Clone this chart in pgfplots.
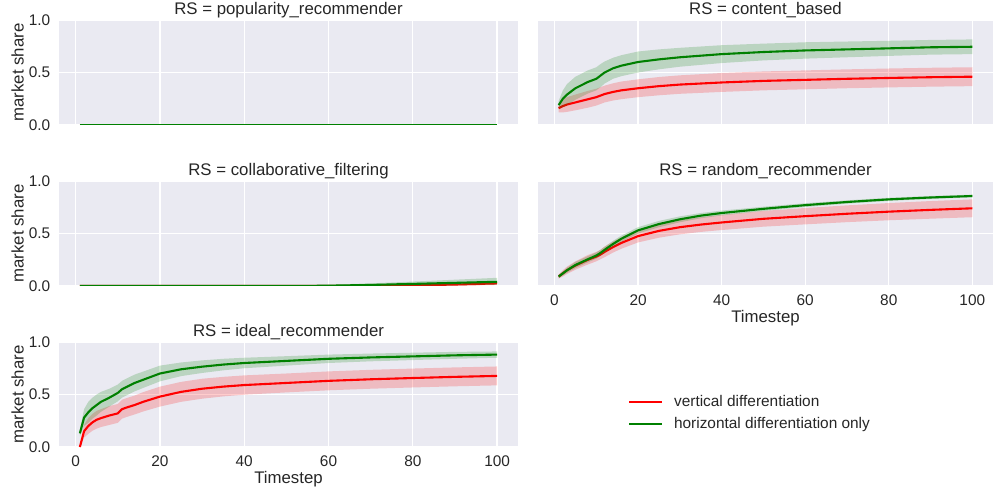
\documentclass[border=0pt]{standalone}
\usepackage{fontspec}
\setmainfont{Liberation Sans}
\usepackage{pgfplots}
\pgfplotsset{compat=1.18}
\definecolor{bgc}{HTML}{EAEAF2}
\definecolor{sred}{HTML}{FF0000}
\definecolor{sgreen}{HTML}{008000}
\definecolor{txt}{HTML}{262626}
\pgfplotsset{
  facet/.style={
    scale only axis, width=459bp, height=105bp,
    xmin=-3.95, xmax=104.95, ymin=0, ymax=1,
    axis background/.style={fill=bgc},
    axis line style={draw=none}, major tick length=0pt,
    grid=major, grid style={white, line width=1.3bp},
    xtick={0,20,...,100}, ytick={0,0.5,1},
    /pgf/number format/assume math mode=true,
    tick label style={font=\fontsize{15.4bp}{18bp}\selectfont, text=txt},
    yticklabel style={anchor=east, inner sep=0pt, xshift=-8.5bp},
    xticklabel style={anchor=base, inner sep=0pt, yshift=-19.5bp},
    title style={at={(0.5,1)}, anchor=base, yshift=-0.5bp, font=\fontsize{16.8bp}{20bp}\selectfont, text=txt},
    label style={font=\fontsize{16.8bp}{20bp}\selectfont, text=txt},
    xlabel style={at={(axis description cs:0.5,0)}, anchor=base, yshift=-36.5bp},
    ylabel style={at={(axis description cs:-0.0773,0.5)}, anchor=base, rotate=0},
  },
  ylab/.style={yticklabel={\pgfmathprintnumber[fixed,fixed zerofill,precision=1,assume math mode=true]{\tick}}},
  noxlab/.style={xticklabels={}},
  noylab/.style={yticklabels={}},
  redline/.style={sred, line width=2.1bp},
  greenline/.style={sgreen, line width=2.1bp},
  redband/.style={fill=sred, fill opacity=0.2, draw=none, forget plot},
  greenband/.style={fill=sgreen, fill opacity=0.2, draw=none, forget plot},
}
\begin{document}
\begin{tikzpicture}
\useasboundingbox (0,0) rectangle (994bp,492bp);

% ---------- popularity_recommender
\begin{axis}[facet, ylab, noxlab, at={(59bp,367bp)}, anchor=south west,
  title={RS = popularity\_recommender}, ylabel={market share}]
\addplot[redline] coordinates {(1,0) (100,0)};
\addplot[greenline] coordinates {(1,0) (100,0)};
\end{axis}

% ---------- content_based
\begin{axis}[facet, noxlab, noylab, width=455bp, at={(538bp,367bp)}, anchor=south west,
  title={RS = content\_based}]
\addplot[redband] coordinates {
(1,.20) (2,.24) (3,.265) (5,.29) (8,.325) (10,.345) (11,.36) (12,.375) (14,.397) (16,.414) (20,.435) (25,.457) (30,.473) (40,.495) (50,.51) (60,.52) (70,.53) (80,.538) (90,.545) (100,.55)
(100,.37) (90,.365) (80,.358) (70,.35) (60,.34) (50,.33) (40,.315) (30,.297) (25,.283) (20,.265) (16,.246) (14,.233) (12,.215) (11,.20) (10,.185) (8,.165) (5,.14) (3,.125) (2,.12) (1,.12)};
\addplot[redline] coordinates {
(1,.16) (2,.18) (3,.195) (5,.215) (8,.245) (10,.265) (11,.28) (12,.295) (14,.315) (16,.33) (20,.35) (25,.37) (30,.385) (40,.405) (50,.42) (60,.43) (70,.44) (80,.448) (90,.455) (100,.46)};
\addplot[greenband] coordinates {
(1,.23) (2,.33) (3,.39) (5,.46) (8,.52) (10,.55) (11,.58) (12,.605) (14,.64) (16,.665) (20,.70) (25,.72) (30,.735) (40,.76) (50,.775) (60,.788) (70,.795) (80,.802) (90,.81) (100,.815)
(100,.675) (90,.67) (80,.658) (70,.645) (60,.632) (50,.615) (40,.59) (30,.555) (25,.53) (20,.50) (16,.465) (14,.44) (12,.395) (11,.36) (10,.33) (8,.30) (5,.24) (3,.19) (2,.17) (1,.15)};
\addplot[greenline] coordinates {
(1,.19) (2,.25) (3,.29) (5,.35) (8,.41) (10,.44) (11,.47) (12,.50) (14,.54) (16,.565) (20,.60) (25,.625) (30,.645) (40,.675) (50,.695) (60,.71) (70,.72) (80,.73) (90,.74) (100,.745)};
\end{axis}

% ---------- collaborative_filtering
\begin{axis}[facet, ylab, noxlab, at={(59bp,206bp)}, anchor=south west,
  title={RS = collaborative\_filtering}, ylabel={market share}]
\addplot[redband] coordinates {
(1,0) (60,0) (70,.004) (80,.015) (90,.028) (100,.042)
(100,.01) (90,.003) (80,0) (1,0)};
\addplot[redline] coordinates {(1,0) (60,0) (70,.001) (75,.002) (80,.006) (90,.014) (100,.025)};
\addplot[greenband] coordinates {
(1,0) (45,0) (50,.002) (60,.012) (70,.025) (80,.042) (90,.06) (100,.078)
(100,.012) (90,.005) (80,0) (1,0)};
\addplot[greenline] coordinates {(1,0) (50,0) (55,.001) (60,.003) (70,.01) (80,.02) (90,.03) (100,.04)};
\end{axis}

% ---------- random_recommender
\begin{axis}[facet, noylab, width=455bp, at={(538bp,206bp)}, anchor=south west,
  title={RS = random\_recommender}, xlabel={Timestep}]
\addplot[redband] coordinates {
(1,.11) (2,.15) (3,.185) (5,.235) (8,.295) (10,.325) (11,.345) (12,.375) (14,.422) (16,.465) (20,.535) (25,.59) (30,.628) (35,.655) (40,.677) (50,.715) (60,.743) (70,.768) (80,.79) (90,.809) (100,.825)
(100,.655) (90,.641) (80,.626) (70,.608) (60,.587) (50,.565) (40,.533) (35,.515) (30,.492) (25,.46) (20,.415) (16,.355) (14,.318) (12,.275) (11,.255) (10,.235) (8,.205) (5,.155) (3,.115) (2,.09) (1,.07)};
\addplot[redline] coordinates {
(1,.09) (2,.12) (3,.15) (5,.195) (8,.25) (10,.28) (11,.30) (12,.325) (14,.37) (16,.41) (20,.475) (25,.525) (30,.56) (35,.585) (40,.605) (50,.64) (60,.665) (70,.688) (80,.708) (90,.725) (100,.74)};
\addplot[greenband] coordinates {
(1,.105) (2,.14) (3,.175) (5,.23) (8,.285) (10,.32) (11,.345) (12,.375) (14,.43) (16,.48) (20,.56) (25,.62) (30,.663) (35,.695) (40,.718) (50,.755) (60,.788) (70,.816) (80,.84) (90,.857) (100,.87)
(100,.844) (90,.829) (80,.81) (70,.784) (60,.752) (50,.715) (40,.672) (35,.645) (30,.607) (25,.56) (20,.50) (16,.42) (14,.37) (12,.315) (11,.285) (10,.26) (8,.225) (5,.17) (3,.125) (2,.10) (1,.075)};
\addplot[greenline] coordinates {
(1,.09) (2,.12) (3,.15) (5,.20) (8,.255) (10,.29) (11,.315) (12,.345) (14,.40) (16,.45) (20,.53) (25,.59) (30,.635) (35,.67) (40,.695) (50,.735) (60,.77) (70,.80) (80,.825) (90,.843) (100,.857)};
\end{axis}

% ---------- ideal_recommender
\begin{axis}[facet, ylab, at={(59bp,45bp)}, anchor=south west,
  title={RS = ideal\_recommender}, ylabel={market share}, xlabel={Timestep},
  legend cell align=left,
  legend image code/.code={\draw[#1] (0bp,0bp) -- (33bp,0bp);},
  legend style={at={(rel axis cs:1.2397,0.3238)}, anchor=west, draw=none, fill=none,
    inner sep=0pt, outer sep=0pt, row sep=5.5bp,
    font=\fontsize{15.4bp}{18bp}\selectfont, text=txt,
    /tikz/every odd column/.append style={column sep=9bp}}]
\addplot[redband] coordinates {
(1,.01) (2,.21) (3,.275) (4,.315) (5,.345) (6,.36) (8,.39) (10,.41) (11,.45) (12,.465) (14,.49) (16,.522) (20,.575) (25,.62) (30,.65) (35,.668) (40,.682) (50,.70) (60,.72) (70,.735) (80,.747) (90,.758) (100,.767)
(100,.587) (90,.578) (80,.567) (70,.555) (60,.54) (50,.52) (40,.498) (35,.482) (30,.46) (25,.43) (20,.385) (16,.338) (14,.31) (12,.285) (11,.27) (10,.23) (8,.21) (6,.19) (5,.175) (4,.155) (3,.125) (2,.09) (1,-.01)};
\addplot[redline] coordinates {
(1,0) (2,.15) (3,.20) (4,.235) (5,.26) (6,.275) (8,.30) (10,.32) (11,.36) (12,.375) (14,.40) (16,.43) (20,.48) (25,.525) (30,.555) (35,.575) (40,.59) (50,.61) (60,.63) (70,.645) (80,.657) (90,.668) (100,.677)};
\addlegendentry{vertical differentiation}
\addplot[greenband] coordinates {
(1,.16) (2,.36) (3,.43) (4,.47) (5,.50) (6,.525) (8,.555) (10,.595) (11,.63) (12,.65) (14,.69) (16,.718) (20,.775) (25,.805) (30,.825) (35,.84) (40,.85) (50,.865) (60,.88) (70,.89) (80,.898) (90,.906) (100,.91)
(100,.85) (90,.84) (80,.828) (70,.816) (60,.80) (50,.775) (40,.75) (35,.73) (30,.705) (25,.675) (20,.625) (16,.562) (14,.53) (12,.49) (11,.47) (10,.435) (8,.385) (6,.335) (5,.30) (4,.27) (3,.23) (2,.20) (1,.10)};
\addplot[greenline] coordinates {
(1,.13) (2,.28) (3,.33) (4,.37) (5,.40) (6,.43) (8,.47) (10,.515) (11,.55) (12,.57) (14,.61) (16,.64) (20,.70) (25,.74) (30,.765) (35,.785) (40,.80) (50,.82) (60,.84) (70,.853) (80,.863) (90,.873) (100,.88)};
\addlegendentry{horizontal differentiation only}
\end{axis}
\end{tikzpicture}
\end{document}
